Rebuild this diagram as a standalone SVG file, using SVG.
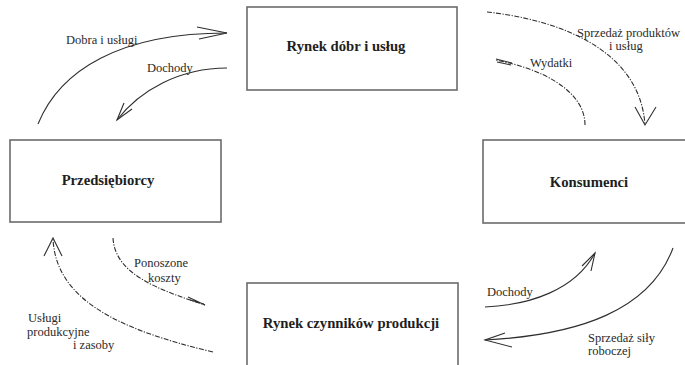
<svg xmlns="http://www.w3.org/2000/svg" width="685" height="365" viewBox="0 0 685 365">
  <style>
    .box { fill: #ffffff; stroke: #6b6b6b; stroke-width: 1.6; }
    .title { font-size: 14.7px; font-weight: bold; fill: #1e1e1e; text-anchor: middle; }
    .lbl { font-size: 12.5px; fill: #2a2a2a; }
    .flow { fill: none; stroke: #2e2e2e; stroke-width: 1.1; }
    .dash { stroke-dasharray: 5 1.5 1.2 1.5; }
    .head { fill: none; stroke: #2e2e2e; stroke-width: 1.1; }
  </style>
  <rect width="685" height="365" fill="#ffffff"/>

  <g font-family="Liberation Serif, Times New Roman, DejaVu Serif, serif">
  <g id="rynek-dobr">
    <rect class="box" x="247" y="7" width="210" height="83"/>
    <text class="title" x="346" y="51">Rynek dóbr i usług</text>
  </g>

  <g id="przedsiebiorcy">
    <rect class="box" x="10" y="140" width="211" height="82"/>
    <text class="title" x="108" y="185">Przedsiębiorcy</text>
  </g>

  <g id="konsumenci">
    <rect class="box" x="483" y="140" width="210" height="83"/>
    <text class="title" x="589" y="187">Konsumenci</text>
  </g>

  <g id="rynek-czynnikow">
    <rect class="box" x="247" y="283" width="211" height="90"/>
    <text class="title" x="351" y="328">Rynek czynników produkcji</text>
  </g>

  <g id="connectors">
    <!-- goods and services to the goods market -->
    <path class="flow" d="M38,124 C60,70 120,33 227,33"/>
    <path class="head" d="M197,27 L227,33 L199,39"/>
    <text class="lbl" x="66" y="44">Dobra i usługi</text>

    <!-- income back to the firms -->
    <path class="flow" d="M227,68 C180,68 140,90 117,120"/>
    <path class="head" d="M132,109 L117,120 L124,103"/>
    <text class="lbl" x="147" y="72">Dochody</text>

    <!-- sale of products and services to consumers -->
    <path class="flow dash" d="M487,12 C560,20 640,50 645,125"/>
    <path class="head" d="M635,107 L645,125 L656,107"/>
    <text class="lbl" x="577" y="37">Sprzedaż produktów</text>
    <text class="lbl" x="609" y="50">i usług</text>

    <!-- consumer spending -->
    <path class="flow dash" d="M585,125 C585,90 540,68 495,60"/>
    <path class="head" d="M496,59 L512,63 M497,62 L511,65"/>
    <text class="lbl" x="530" y="67">Wydatki</text>

    <!-- productive services and resources -->
    <path class="flow dash" d="M213,352 C120,330 55,300 53,238"/>
    <path class="head" d="M44,256 L53,238 L62,256"/>
    <text class="lbl" x="28" y="322">Usługi</text>
    <text class="lbl" x="27" y="336">produkcyjne</text>
    <text class="lbl" x="73" y="349">i zasoby</text>

    <!-- costs incurred -->
    <path class="flow dash" d="M113,238 C115,275 160,290 205,305"/>
    <path class="head" d="M188,297 L205,305 M190,300 L204,304"/>
    <text class="lbl" x="134" y="267">Ponoszone</text>
    <text class="lbl" x="148" y="282">koszty</text>

    <!-- income to consumers -->
    <path class="flow" d="M485,307 C530,305 575,290 595,253"/>
    <path class="head" d="M591,271 L595,253 L582,266"/>
    <text class="lbl" x="487" y="296">Dochody</text>

    <!-- sale of labour -->
    <path class="flow" d="M673,248 C650,310 580,335 485,340"/>
    <path class="head" d="M505,333 L485,340 L512,347"/>
    <text class="lbl" x="588" y="342">Sprzedaż siły</text>
    <text class="lbl" x="588" y="355">roboczej</text>
  </g>
  </g>
</svg>
